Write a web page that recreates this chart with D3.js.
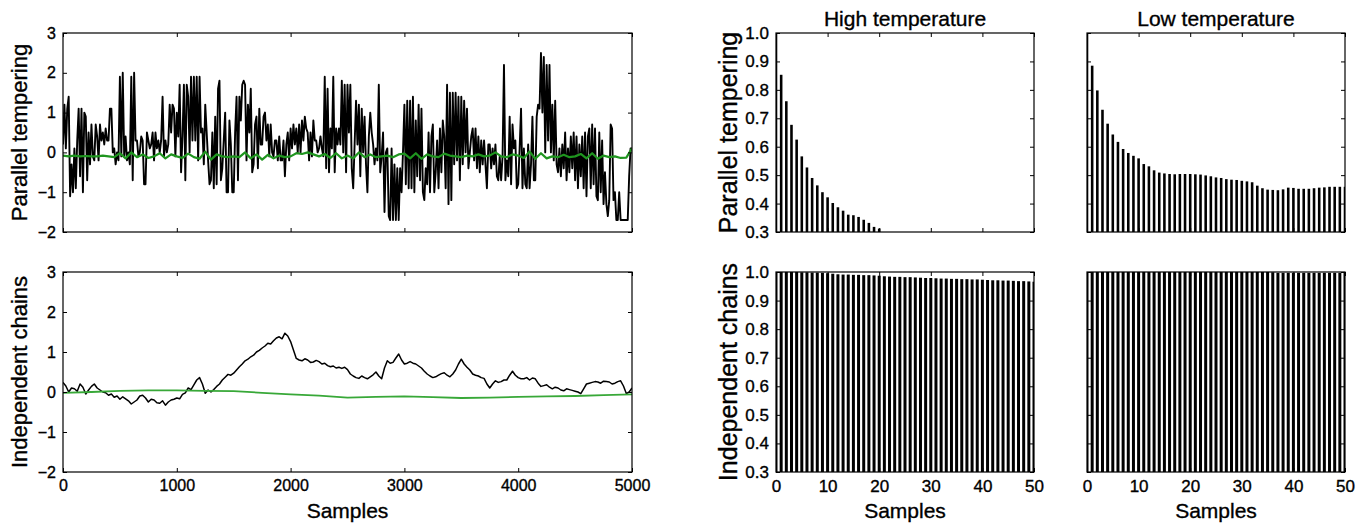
<!DOCTYPE html>
<html>
<head>
<meta charset="utf-8">
<script src="https://cdn.jsdelivr.net/npm/d3@7"></script>
<style>
  body { margin: 0; background: #fff; }
  svg text { font-family: "Liberation Sans", Arial, Helvetica, sans-serif; fill: #000; stroke: #000; stroke-width: 0.35px; }
  .axis path { display: none; }
  .axis line { stroke: #000; stroke-width: 1; }
</style>
</head>
<body>
<svg id="chart" width="1367" height="524"></svg>
<script>
// ---- data ----
const traceXMax = 5000;
const traceYTicks = [-2, -1, 0, 1, 2, 3];
const traceXTicks = [0, 1000, 2000, 3000, 4000, 5000];

const ptChain = [
  0.2, 1.2, 0.1, 1.1, 1.4, -1.1, -0.3, -1.0, 0.1, -0.9, 0.3, 1.1, -0.6, 1.1, -1.0, 1.0,
  0.9, -0.7, 0.5, -0.3, 0.7, -0.1, -0.2, 0.7, 0.4, -0.2, 0.7, 0.3, 0.5, 0.2, 0.6, 0.3,
  0.3, 1.1, 1.1, 0.0, 0.1, -0.3, 0.0, -0.2, 1.9, -0.1, 2.0, -0.1, 0.4, -0.2, 0.0, -0.3,
  1.9, -0.7, 2.0, 0.3, 0.3, -0.1, 0.0, 0.4, 0.3, -0.8, -0.8, 0.5, 0.3, 0.1, 0.2, 0.5,
  -0.2, 0.5, 0.1, 0.3, 0.0, 0.3, 1.4, -0.1, 0.3, 0.0, 0.2, 1.2, 0.5, 1.2, 1.1, -0.1,
  1.0, 0.4, 1.7, -0.5, 0.4, 1.7, -0.7, 1.7, 1.4, 0.0, 1.9, 0.3, 1.9, 0.3, 1.9, -0.2,
  1.9, 0.5, 0.6, -0.3, 1.2, 0.5, -0.2, -0.8, -0.7, 0.5, -0.9, 0.9, -0.8, 1.6, 1.8, -0.7,
  -0.4, 0.3, 1.0, -1.0, -1.0, 0.8, 0.2, -1.0, -1.0, 0.5, 1.4, -0.7, 1.4, 0.8, 1.7, 1.8,
  1.7, -0.2, 1.2, 0.5, 1.6, -0.5, -0.3, 0.7, 0.9, -0.4, 1.1, 0.2, 0.2, 0.9, 1.0, 0.3,
  0.7, -0.1, 0.7, 0.0, -0.1, 0.3, 0.3, -0.2, 0.4, -0.2, -0.2, 0.3, -0.6, 0.2, 0.5, -0.2,
  0.6, 0.1, 0.7, 0.2, 0.6, 0.0, 0.7, 0.0, 0.8, 0.3, 0.9, 0.6, 0.5, -0.2, 0.5, -0.1,
  0.8, 0.3, 0.3, 0.0, 0.1, 0.4, 0.1, -0.1, 1.9, -0.4, 1.6, -0.5, 0.6, 0.1, 1.9, -0.5,
  0.6, 0.2, 0.6, 0.2, 1.8, 0.0, 1.7, -0.5, 1.7, 0.5, 1.7, -0.4, -0.9, 0.2, 1.3, 0.2,
  1.2, -0.6, 1.1, 0.0, 0.9, -0.3, -1.0, 0.4, 1.0, 0.5, 0.2, -0.3, 0.1, -0.2, 1.7, -0.5,
  -0.1, 0.5, -1.5, 0.0, 0.1, -1.6, -1.7, 0.1, -1.7, -0.3, -1.7, -0.4, -1.7, -0.4, -1.0, 0.0,
  1.2, -0.8, 1.3, -0.9, 1.3, -0.9, 1.4, -1.0, 0.8, -0.6, 1.2, -0.7, 1.1, -1.0, -1.2, -0.4,
  -0.8, 0.5, -1.0, 0.4, 0.7, -1.0, -0.5, 0.3, -0.9, 0.6, -0.5, 0.8, 0.4, -0.9, 1.7, -1.3,
  1.5, -1.2, 1.5, -0.3, 1.5, -0.2, 1.4, -0.7, 1.4, -0.3, 1.3, 0.0, 1.1, -0.4, 0.0, 0.4,
  0.6, -0.2, 0.6, -0.4, 0.4, -0.5, 0.3, -0.3, 0.3, -0.3, -0.9, 0.2, 0.2, -0.4, 0.1, -0.3,
  0.2, -0.6, -0.7, -0.1, -0.7, -0.1, 2.2, -0.7, -0.2, -0.6, 0.9, -0.8, 0.7, 0.1, 0.3, -0.9,
  -0.8, 0.1, 1.1, -0.9, 0.1, -0.8, -0.9, 0.2, -0.9, -0.3, 0.9, -0.7, -0.7, 0.9, 1.2, 1.1,
  2.5, 1.0, 2.4, 0.0, 2.2, 0.3, 2.2, 0.0, 1.2, -0.2, 1.3, -0.3, -0.5, 0.1, -0.6, 0.2,
  -0.4, 0.5, -0.7, 0.1, -0.5, 0.4, -0.4, 0.5, -0.7, 0.4, -0.9, 0.2, -0.6, 0.4, -0.9, 0.5,
  -1.1, 0.4, 0.6, -0.9, 0.7, -0.8, 0.6, -1.1, -1.2, 0.5, -1.0, 0.3, -1.3, -0.5, -1.3, -1.6,
  -1.2, 0.7, 0.6, -1.2, -1.0, -1.7, -1.7, -1.0, -1.7, -1.7, -1.7, -1.7, -1.7, -1.7, -0.6, 0.1,
  0.1
];

// parallel tempering, green chain (every 50 samples)
const ptChainGreen = [
  -0.08, -0.1, -0.08, -0.1, -0.09, -0.1, -0.1, -0.08, -0.1, -0.12,
  -0.02, -0.15, 0.0, -0.12, -0.05, -0.14, -0.1, -0.02, -0.15, -0.05,
  -0.1, -0.14, -0.03, -0.12, -0.16, 0.02, -0.18, -0.05, -0.1, -0.12,
  -0.1, -0.12, 0.0, -0.15, -0.05, -0.18, -0.06, -0.15, -0.08, -0.12,
  -0.1, -0.02, -0.04, 0.0, -0.05, -0.1, -0.04, -0.14, -0.02, -0.15,
  -0.08, -0.15, 0.0, -0.12, -0.05, -0.12, -0.1, -0.08, -0.12, -0.05,
  -0.03, -0.15, -0.02, -0.16, -0.05, -0.1, -0.12, -0.03, -0.08, -0.1,
  -0.12, -0.08, -0.1, -0.05, -0.1, -0.08, 0.0, -0.1, -0.12, -0.05,
  -0.08, -0.14, 0.02, -0.16, -0.02, -0.15, -0.1, -0.12, -0.06, -0.12,
  -0.1, -0.04, -0.15, -0.02, -0.16, -0.08, -0.12, -0.1, -0.14, -0.13, 0.1
];

// independent chains, black (every 25 samples)
const icChain = [
  0.24, 0.15, 0.0, 0.1, 0.08, 0.02, 0.2, 0.12, -0.05, 0.05, 0.14, 0.2, 0.1, 0.05, 0.0, -0.02, -0.08, -0.05, -0.13, -0.1,
  -0.18, -0.12, -0.17, -0.22, -0.3, -0.25, -0.2, -0.1, -0.08, -0.15, -0.25, -0.18, -0.2, -0.27, -0.28, -0.22, -0.33, -0.25, -0.2, -0.18,
  -0.15, -0.17, -0.06, -0.02, 0.1, 0.06, 0.18, 0.3, 0.36, 0.2, -0.03, 0.05, 0.0, 0.06, 0.14, 0.2, 0.3, 0.37, 0.44, 0.42,
  0.47, 0.55, 0.63, 0.7, 0.78, 0.82, 0.88, 0.92, 1.0, 1.04, 1.1, 1.15, 1.22, 1.2, 1.28, 1.35, 1.38, 1.33, 1.47, 1.4,
  1.26, 1.05, 0.84, 0.8, 0.78, 0.83, 0.8, 0.74, 0.75, 0.79, 0.76, 0.7, 0.72, 0.66, 0.63, 0.65, 0.6, 0.62, 0.59, 0.62,
  0.56, 0.45, 0.4, 0.36, 0.34, 0.4, 0.36, 0.33, 0.38, 0.43, 0.5, 0.4, 0.33, 0.6, 0.78, 0.72, 0.74, 0.85, 0.95, 0.8,
  0.7, 0.72, 0.76, 0.72, 0.7, 0.65, 0.6, 0.52, 0.45, 0.4, 0.36, 0.38, 0.42, 0.46, 0.48, 0.42, 0.38, 0.45, 0.55, 0.7,
  0.82, 0.7, 0.62, 0.55, 0.45, 0.42, 0.4, 0.36, 0.34, 0.2, 0.1, 0.2, 0.28, 0.24, 0.26, 0.3, 0.3, 0.42, 0.52, 0.42,
  0.36, 0.33, 0.33, 0.36, 0.3, 0.35, 0.33, 0.22, 0.14, 0.16, 0.18, 0.12, 0.08, 0.12, 0.1, 0.05, 0.03, 0.08, 0.06, 0.04,
  0.02, 0.0, -0.04, 0.08, 0.2, 0.22, 0.24, 0.26, 0.25, 0.22, 0.27, 0.26, 0.25, 0.2, 0.22, 0.26, 0.28, 0.15, -0.04, 0.0, 0.1
];

// independent chains, green (every 250 samples)
const icChainGreen = [
  -0.02, 0.0, 0.03, 0.04, 0.04, 0.03, 0.02, -0.02, -0.06, -0.09,
  -0.14, -0.12, -0.11, -0.13, -0.15, -0.14, -0.12, -0.11, -0.1, -0.08, -0.06
];

// autocorrelation at lags 0..50
const lagMax = 50;
const acfYTicks = [0.3, 0.4, 0.5, 0.6, 0.7, 0.8, 0.9, 1.0];
const acfXTicks = [0, 10, 20, 30, 40, 50];

const acfPtHigh = [
  1.0, 0.853, 0.76, 0.677, 0.625, 0.566, 0.527, 0.49, 0.464, 0.44,
  0.422, 0.402, 0.387, 0.375, 0.361, 0.359, 0.353, 0.343, 0.332, 0.318,
  0.312, 0.298, 0.29, 0.285, 0.28, 0.275, 0.27, 0.266, 0.262, 0.258,
  0.255, 0.252, 0.25, 0.248, 0.246, 0.244, 0.242, 0.24, 0.238, 0.236,
  0.235, 0.234, 0.233, 0.232, 0.231, 0.23, 0.229, 0.228, 0.227, 0.226, 0.225
];
const acfPtLow = [
  1.0, 0.885, 0.798, 0.73, 0.681, 0.643, 0.617, 0.592, 0.578, 0.568,
  0.559, 0.539, 0.531, 0.517, 0.509, 0.506, 0.504, 0.503, 0.504, 0.504,
  0.504, 0.503, 0.502, 0.499, 0.496, 0.492, 0.49, 0.486, 0.484, 0.483,
  0.48, 0.478, 0.475, 0.463, 0.454, 0.449, 0.448, 0.447, 0.45, 0.456,
  0.455, 0.452, 0.452, 0.452, 0.454, 0.456, 0.457, 0.459, 0.459, 0.459, 0.459
];
const acfIcHigh = [
  1.0, 1.0, 1.0, 1.0, 1.0, 0.999, 0.999, 0.998, 0.998, 0.997,
  0.996, 0.994, 0.992, 0.991, 0.991, 0.99, 0.99, 0.989, 0.989, 0.988,
  0.987, 0.985, 0.984, 0.983, 0.983, 0.982, 0.982, 0.981, 0.98, 0.979,
  0.979, 0.978, 0.977, 0.977, 0.976, 0.976, 0.975, 0.975, 0.974, 0.974,
  0.973, 0.972, 0.971, 0.971, 0.97, 0.97, 0.969, 0.968, 0.968, 0.967, 0.966
];
const acfIcLow = [
  1.0, 1.0, 1.0, 1.0, 1.0, 1.0, 1.0, 1.0, 1.0, 1.0,
  1.0, 1.0, 1.0, 1.0, 1.0, 1.0, 1.0, 1.0, 1.0, 1.0,
  1.0, 1.0, 1.0, 1.0, 1.0, 1.0, 1.0, 1.0, 1.0, 1.0,
  1.0, 1.0, 1.0, 1.0, 1.0, 1.0, 0.999, 0.997, 0.997, 0.997,
  0.997, 0.997, 0.997, 0.997, 0.997, 0.997, 0.997, 0.997, 0.997, 0.997, 0.997
];

// ---- layout ----
const svg = d3.select("#chart");
const defs = svg.append("defs");
const TICK = 4;
let clipId = 0;

const rows = [{ top: 33, bottom: 232 }, { top: 272, bottom: 472 }];
const traceCols = { left: 63, right: 632 };
const acfCols = [{ left: 776, right: 1034 }, { left: 1087, right: 1345 }];

// frame + inward ticks on all four sides
function drawFrame(g, x, y, xTicks, yTicks, opts) {
  const [x0, x1] = x.range();
  const [y0, y1] = y.range(); // y0 bottom, y1 top
  const fs = opts.tickFont;

  const left = g.append("g").attr("class", "axis").attr("transform", `translate(${x0},0)`)
    .call(d3.axisLeft(y).tickValues(yTicks).tickSize(-TICK).tickPadding(7)
      .tickFormat(opts.yLabels ? opts.yFormat : () => ""));
  left.selectAll("text").style("font-size", fs + "px");
  g.append("g").attr("class", "axis").attr("transform", `translate(${x1},0)`)
    .call(d3.axisRight(y).tickValues(yTicks).tickSize(-TICK).tickFormat(() => ""));
  g.append("g").attr("class", "axis").attr("transform", `translate(0,${y1})`)
    .call(d3.axisTop(x).tickValues(xTicks).tickSize(-TICK).tickFormat(() => ""));
  const bottom = g.append("g").attr("class", "axis").attr("transform", `translate(0,${y0})`)
    .call(d3.axisBottom(x).tickValues(xTicks).tickSize(-TICK).tickPadding(8)
      .tickFormat(opts.xLabels ? d3.format("d") : () => ""));
  bottom.selectAll("text").style("font-size", fs + "px");

  g.append("rect")
    .attr("x", x0).attr("y", y1)
    .attr("width", x1 - x0).attr("height", y0 - y1)
    .attr("fill", "none").attr("stroke", "#000").attr("stroke-width", 1.2);
}

function makeClip(x, y) {
  const id = "clip" + (clipId++);
  defs.append("clipPath").attr("id", id).append("rect")
    .attr("x", x.range()[0]).attr("y", y.range()[1])
    .attr("width", x.range()[1] - x.range()[0])
    .attr("height", y.range()[0] - y.range()[1]);
  return `url(#${id})`;
}

function drawTrace(g, x, y, values, color, width) {
  const step = traceXMax / (values.length - 1);
  g.append("path")
    .datum(values)
    .attr("fill", "none")
    .attr("stroke", color)
    .attr("stroke-width", width)
    .attr("stroke-linejoin", "round")
    .attr("d", d3.line().x((d, i) => x(i * step)).y(d => y(d)));
}

// left column: sample traces
const tracePanels = [
  { row: 0, black: ptChain, green: ptChainGreen, blackWidth: 1.9, greenColor: "#1f951f", greenWidth: 2.2, label: "Parallel tempering", xLabels: false },
  { row: 1, black: icChain, green: icChainGreen, blackWidth: 1.5, greenColor: "#38a838", greenWidth: 1.8, label: "Independent chains", xLabels: true }
];

tracePanels.forEach(p => {
  const r = rows[p.row];
  const x = d3.scaleLinear().domain([0, traceXMax]).range([traceCols.left, traceCols.right]);
  const y = d3.scaleLinear().domain([-2, 3]).range([r.bottom, r.top]);
  const g = svg.append("g");
  const plot = g.append("g").attr("clip-path", makeClip(x, y));
  drawTrace(plot, x, y, p.black, "#000", p.blackWidth);
  drawTrace(plot, x, y, p.green, p.greenColor, p.greenWidth);
  drawFrame(g, x, y, traceXTicks, traceYTicks, {
    tickFont: 16, yLabels: true, xLabels: p.xLabels, yFormat: d3.format("d")
  });
  g.append("text")
    .attr("transform", `translate(27,${(r.top + r.bottom) / 2}) rotate(-90)`)
    .attr("text-anchor", "middle")
    .style("font-size", "22px")
    .text(p.label);
});

svg.append("text")
  .attr("x", (traceCols.left + traceCols.right) / 2).attr("y", 518)
  .attr("text-anchor", "middle").style("font-size", "21px")
  .text("Samples");

// right columns: autocorrelation bars
const acfPanels = [
  { row: 0, col: 0, values: acfPtHigh },
  { row: 0, col: 1, values: acfPtLow },
  { row: 1, col: 0, values: acfIcHigh },
  { row: 1, col: 1, values: acfIcLow }
];

acfPanels.forEach(p => {
  const r = rows[p.row];
  const c = acfCols[p.col];
  const x = d3.scaleLinear().domain([0, lagMax]).range([c.left, c.right]);
  const y = d3.scaleLinear().domain([0.3, 1.0]).range([r.bottom, r.top]);
  const g = svg.append("g");
  const barW = x(p.row === 0 ? 0.5 : 0.58) - x(0);
  g.append("g").attr("clip-path", makeClip(x, y))
    .selectAll("rect")
    .data(p.values)
    .join("rect")
    .attr("x", (d, i) => x(i) - barW / 2)
    .attr("y", d => y(Math.max(d, 0.3)))
    .attr("width", barW)
    .attr("height", d => Math.max(0, y(0.3) - y(d)))
    .attr("fill", "#000");
  drawFrame(g, x, y, acfXTicks, acfYTicks, {
    tickFont: 17, yLabels: p.col === 0, xLabels: p.row === 1, yFormat: d3.format(".1f")
  });
});

const acfRowLabels = ["Parallel tempering", "Independent chains"];
acfRowLabels.forEach((label, i) => {
  const r = rows[i];
  svg.append("text")
    .attr("transform", `translate(737,${(r.top + r.bottom) / 2}) rotate(-90)`)
    .attr("text-anchor", "middle")
    .style("font-size", "25px")
    .text(label);
});

const acfTitles = ["High temperature", "Low temperature"];
acfTitles.forEach((t, i) => {
  const c = acfCols[i];
  svg.append("text")
    .attr("x", (c.left + c.right) / 2).attr("y", 26)
    .attr("text-anchor", "middle").style("font-size", "21px")
    .text(t);
  svg.append("text")
    .attr("x", (c.left + c.right) / 2).attr("y", 518)
    .attr("text-anchor", "middle").style("font-size", "21px")
    .text("Samples");
});
</script>
</body>
</html>
